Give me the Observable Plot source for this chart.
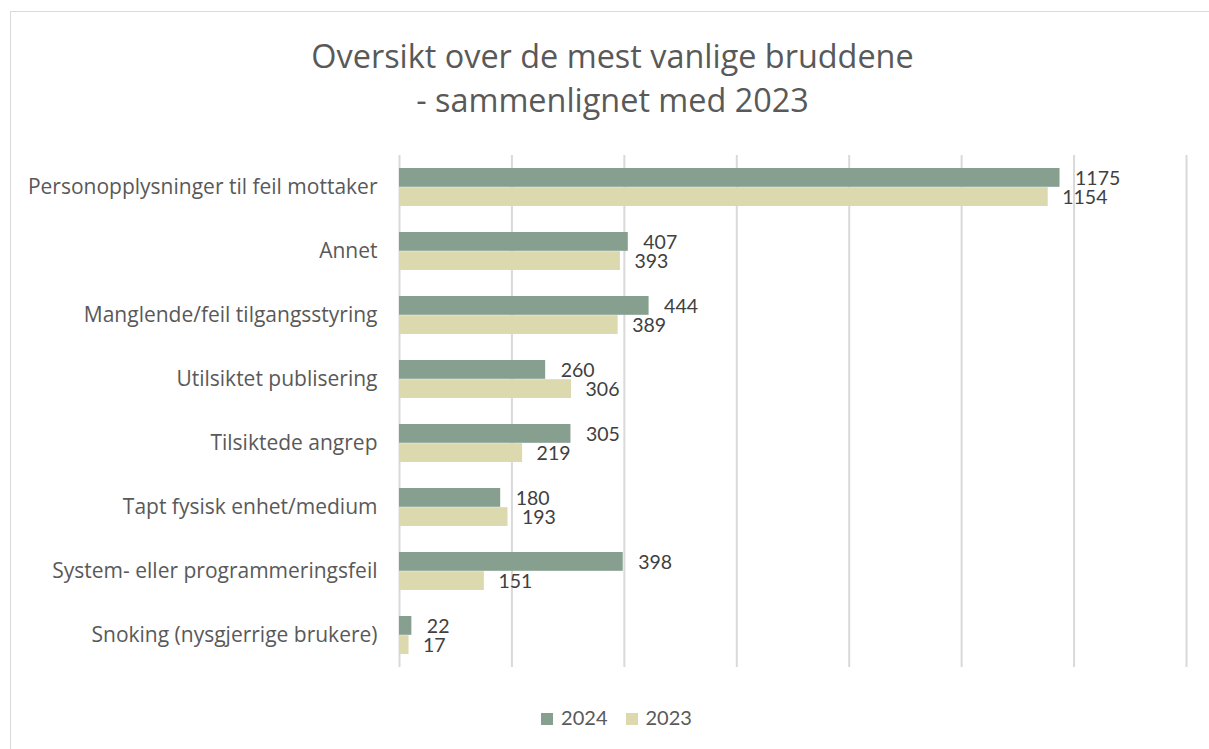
<!DOCTYPE html>
<html><head><meta charset="utf-8">
<script src="https://cdn.jsdelivr.net/npm/d3@7"></script>
<script src="https://cdn.jsdelivr.net/npm/@observablehq/plot@0.6"></script>
<style>
body{margin:0;background:#fff;font-family:Lato,"Open Sans",sans-serif;}
#wrap{position:relative;width:1209px;height:749px;overflow:hidden;}
#frame{position:absolute;left:10px;top:11px;width:1300px;height:800px;border:1px solid #d9d9d9;box-sizing:border-box;}
#title{position:absolute;left:0;width:1225px;top:33px;text-align:center;font-family:"Open Sans",sans-serif;font-size:32.4px;line-height:44px;color:#595959;}
#chart{position:absolute;left:0;top:140px;}
#legend{position:absolute;left:0;width:1233px;top:705px;text-align:center;font-size:20px;color:#595959;}
#legend span.sw{display:inline-block;width:12px;height:12px;margin-right:8px;vertical-align:0px;}
#legend span.it{margin:0 9px;}
</style></head><body>
<div id="wrap">
<div id="frame"></div>
<div id="title">Oversikt over de mest vanlige bruddene<br>- sammenlignet med 2023</div>
<div id="chart"></div>
<div id="legend"></div>
</div>
<script>
const categories = ["Personopplysninger til feil mottaker","Annet","Manglende/feil tilgangsstyring","Utilsiktet publisering","Tilsiktede angrep","Tapt fysisk enhet/medium","System- eller programmeringsfeil","Snoking (nysgjerrige brukere)"];
const values2024 = [1175,407,444,260,305,180,398,22];
const values2023 = [1154,393,389,306,219,193,151,17];
const series = ["2024","2023"];
const colors = ["#869f8f","#ddd9ae"];
const gridTicks = [0,200,400,600,800,1000,1200,1400];

const d24 = categories.map((c,i)=>({cat:c,v:values2024[i]}));
const d23 = categories.map((c,i)=>({cat:c,v:values2023[i]}));

const H = 540, mt = 15, mb = 13;
const step = (H-mt-mb)/8, bw = step*0.6;

const chart = Plot.plot({
  width:1209, height:H,
  marginLeft:399, marginRight:23, marginTop:mt, marginBottom:mb,
  style:{fontFamily:"Lato, 'Open Sans', sans-serif", background:"transparent"},
  x:{domain:[0,1400], axis:null},
  y:{domain:categories, paddingInner:0.4, paddingOuter:0.2, label:null},
  marks:[
    Plot.ruleX(gridTicks,{stroke:"#d9d9d9",strokeWidth:2}),
    Plot.barX(d24,{y:"cat",x:"v",fill:colors[0],insetBottom:bw/2}),
    Plot.barX(d23,{y:"cat",x:"v",fill:colors[1],insetTop:bw/2}),
    Plot.text(d24,{y:"cat",x:"v",text:d=>String(d.v),textAnchor:"start",dx:15,dy:-9,fontSize:19.5,fill:"#404040"}),
    Plot.text(d23,{y:"cat",x:"v",text:d=>String(d.v),textAnchor:"start",dx:14,dy:10.5,fontSize:19.5,fill:"#404040"}),
    Plot.axisY({tickSize:0,tickPadding:22,fontSize:21,fontFamily:"'Open Sans', sans-serif",fill:"#595959",label:null})
  ]
});
document.getElementById("chart").appendChild(chart);

const lg = document.getElementById("legend");
series.forEach((s,i)=>{
  const it=document.createElement("span");it.className="it";
  const sw=document.createElement("span");sw.className="sw";sw.style.background=colors[i];
  it.appendChild(sw);it.appendChild(document.createTextNode(s));lg.appendChild(it);
});
</script>
</body></html>
